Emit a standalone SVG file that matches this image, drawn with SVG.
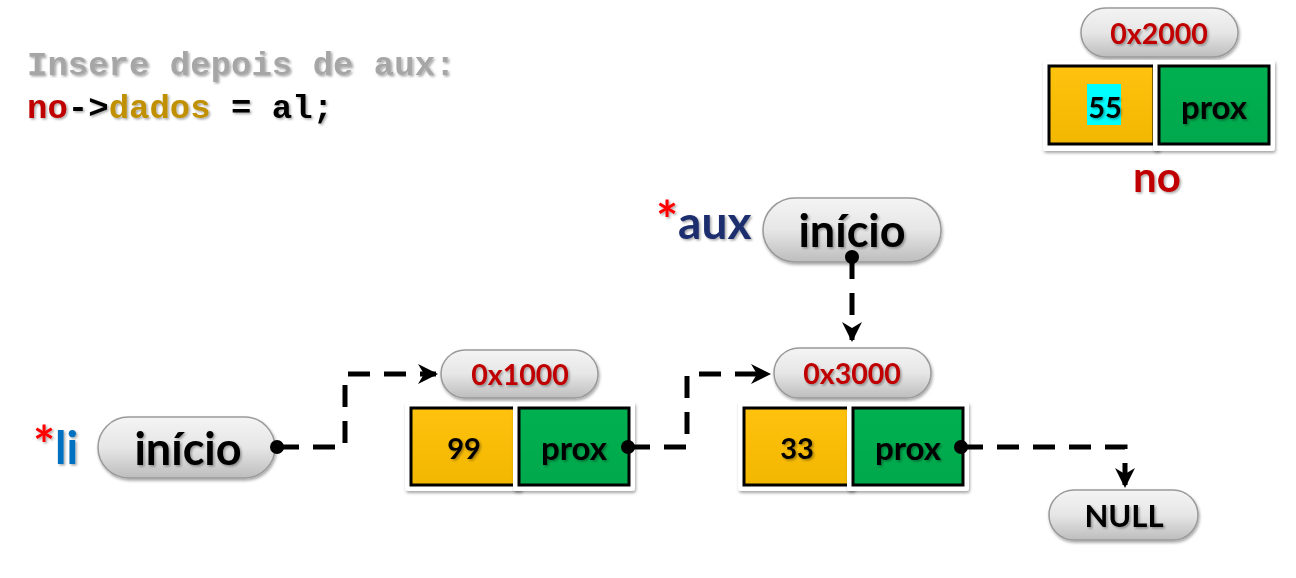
<svg xmlns="http://www.w3.org/2000/svg" width="1296" height="578" viewBox="0 0 1296 578">
<defs>
<linearGradient id="pillG" x1="0" y1="0" x2="0" y2="1">
<stop offset="0" stop-color="#f4f4f4"/>
<stop offset="0.5" stop-color="#e6e6e6"/>
<stop offset="1" stop-color="#bdbdbd"/>
</linearGradient>
<linearGradient id="yelG" x1="0" y1="0" x2="0" y2="1">
<stop offset="0" stop-color="#ffc20e"/>
<stop offset="1" stop-color="#f2b700"/>
</linearGradient>
<linearGradient id="grnG" x1="0" y1="0" x2="0" y2="1">
<stop offset="0" stop-color="#00b050"/>
<stop offset="1" stop-color="#00a84c"/>
</linearGradient>
<filter id="sh" x="-10%" y="-10%" width="130%" height="140%">
<feDropShadow dx="1" dy="2" stdDeviation="1.5" flood-color="#000" flood-opacity="0.35"/>
</filter>
<filter id="tsh" x="-10%" y="-10%" width="130%" height="140%">
<feDropShadow dx="1.5" dy="1.5" stdDeviation="1" flood-color="#000" flood-opacity="0.35"/>
</filter>
<marker id="arr" viewBox="0 0 10 10" refX="9" refY="5" markerWidth="4" markerHeight="4" orient="auto" markerUnits="strokeWidth">
<path d="M0,0 L10,5 L0,10 L3,5 z" fill="#000"/>
</marker>
</defs>
<style>
.pill{fill:url(#pillG);stroke:#9a9a9a;stroke-width:1.5;filter:url(#sh)}
.outer{fill:#fff;filter:url(#sh)}
.yel{fill:url(#yelG);stroke:#000;stroke-width:3}
.grn{fill:url(#grnG);stroke:#000;stroke-width:3}
.t{font-family:Lato,"Open Sans","Liberation Sans",sans-serif;font-weight:bold;text-anchor:middle;dominant-baseline:central;filter:url(#tsh)}
.addr{font-size:28.5px;fill:#c00000}
.big{font-size:45px;fill:#000}
.val{font-size:29px;fill:#000}
.prox{font-size:33px;fill:#000}
.code{font-family:"Liberation Mono","DejaVu Sans Mono",monospace;font-weight:bold;font-size:34px}
.conn{fill:none;stroke:#000;stroke-width:5;stroke-dasharray:22 14}
.lbl{font-family:Lato,"Open Sans","Liberation Sans",sans-serif;font-weight:bold;filter:url(#tsh)}
</style>

<g id="code">
<text class="code" x="27" y="75" fill="#a6a6a6" filter="url(#tsh)">Insere depois de aux:</text>
<text class="code" x="27" y="118" filter="url(#tsh)"><tspan fill="#c00000">no</tspan><tspan fill="#000">-&gt;</tspan><tspan fill="#c09000">dados</tspan><tspan fill="#000"> = al;</tspan></text>
</g>

<g id="node-0x2000">
<rect class="pill" x="1081" y="8" width="157" height="49" rx="24.5"/>
<text class="t addr" x="1159" y="33">0x2000</text>
<rect class="outer" x="1043" y="60" width="117" height="91" rx="3"/>
<rect class="yel" x="1049" y="66" width="105" height="78"/>
<rect class="outer" x="1153" y="60" width="122" height="91" rx="3"/>
<rect class="grn" x="1159" y="66" width="110" height="78"/>
<rect x="1087" y="84" width="34" height="41" fill="#00ffff"/>
<text class="t val" x="1105" y="106">55</text>
<text class="t prox" x="1214" y="106">prox</text>
<text class="t" x="1157" y="176" font-size="42" fill="#c00000">no</text>
</g>

<g id="aux">
<text class="lbl" x="656" y="239" font-size="46"><tspan fill="#ff0000" font-size="52">*</tspan><tspan fill="#1f2f6e">aux</tspan></text>
<rect class="pill" x="763" y="198" width="178" height="64" rx="32"/>
<text class="t big" x="852" y="230">início</text>
</g>

<g id="li">
<text class="lbl" x="33" y="464" font-size="46"><tspan fill="#ff0000" font-size="52">*</tspan><tspan fill="#0070c0">li</tspan></text>
<rect class="pill" x="98" y="417" width="177" height="61" rx="30.5"/>
<text class="t big" x="188" y="448">início</text>
</g>

<g id="node-0x1000">
<rect class="pill" x="441" y="350" width="157" height="48" rx="24"/>
<text class="t addr" x="520" y="374">0x1000</text>
<rect class="outer" x="405" y="402" width="117" height="89" rx="3"/>
<rect class="yel" x="411" y="408" width="105" height="77"/>
<rect class="outer" x="513" y="402" width="122" height="89" rx="3"/>
<rect class="grn" x="519" y="408" width="110" height="77"/>
<text class="t val" x="464" y="447">99</text>
<text class="t prox" x="574" y="447">prox</text>
</g>

<g id="node-0x3000">
<rect class="pill" x="774" y="348" width="157" height="50" rx="25"/>
<text class="t addr" x="852" y="373">0x3000</text>
<rect class="outer" x="738" y="402" width="117" height="89" rx="3"/>
<rect class="yel" x="744" y="408" width="105" height="77"/>
<rect class="outer" x="847" y="402" width="122" height="89" rx="3"/>
<rect class="grn" x="853" y="408" width="110" height="77"/>
<text class="t val" x="797" y="447">33</text>
<text class="t prox" x="908" y="447">prox</text>
</g>

<g id="null">
<rect class="pill" x="1049" y="490" width="149" height="50" rx="25"/>
<text class="t" x="1124" y="515" font-size="31" fill="#000">NULL</text>
</g>

<g id="connectors">
<circle cx="852" cy="257" r="7" fill="#000"/>
<path class="conn" d="M852,257 L852,340" marker-end="url(#arr)"/>
<circle cx="277" cy="447" r="7" fill="#000"/>
<path class="conn" d="M277,447 L345,447 L345,374 L436,374" marker-end="url(#arr)"/>
<circle cx="628" cy="447" r="7" fill="#000"/>
<path class="conn" d="M628,447 L687,447 L687,374 L769,374" marker-end="url(#arr)"/>
<circle cx="961" cy="447" r="7" fill="#000"/>
<path class="conn" d="M961,447 L1125,447 L1125,486" marker-end="url(#arr)"/>
</g>
</svg>
